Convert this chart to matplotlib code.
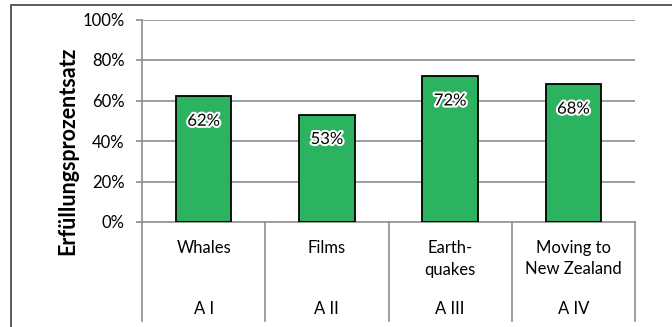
import matplotlib
matplotlib.use("Agg")
import matplotlib.pyplot as plt
import matplotlib.transforms as mtransforms
from matplotlib.patches import Rectangle
import matplotlib.patheffects as pe

categories = ["Whales", "Films", "Earth-\nquakes", "Moving to\nNew Zealand"]
groups = ["A I", "A II", "A III", "A IV"]
values = [62, 53, 72, 68]
yticks = [0, 20, 40, 60, 80, 100]
ylabel = "Erfüllungsprozentsatz"

plt.rcParams['font.family'] = ['Lato', 'DejaVu Sans']

W, H = 672, 327
fig = plt.figure(figsize=(W / 100, H / 100), dpi=100)

def fx(px):
    return px / W

def fy(py):
    return 1 - py / H

left, right, top, bottom = 142, 635, 19.5, 222
ax = fig.add_axes([fx(left), fy(bottom), fx(right - left), fy(top) - fy(bottom)])

grid_color = "#8c8c8c"
bar_color = "#2bb35f"
fs = 12

x = list(range(len(values)))
ax.bar(x, values, width=0.45, color=bar_color, edgecolor="black", linewidth=1.3, zorder=3)
ax.set_xlim(-0.5, len(values) - 0.5)
ax.set_ylim(0, 100)
ax.set_yticks(yticks)
ax.set_yticklabels([f"{v}%" for v in yticks], fontsize=fs)
ax.set_xticks([])
for v in yticks[1:]:
    ax.axhline(v, color=grid_color, linewidth=1.2, zorder=1)
for s in ["top", "right"]:
    ax.spines[s].set_visible(False)
for s in ["left", "bottom"]:
    ax.spines[s].set_color(grid_color)
    ax.spines[s].set_linewidth(1.2)
ax.tick_params(axis="y", length=4.5, width=1.2, color=grid_color, pad=8)

# data labels
for xi, v in zip(x, values):
    ax.annotate(f"{v}%", (xi, v), xytext=(0, -17.5), textcoords="offset points",
                ha="center", va="center", fontsize=fs, zorder=5,
                path_effects=[pe.withStroke(linewidth=3, foreground="white")])

# category separators and labels
trans = mtransforms.blended_transform_factory(ax.transData, ax.transAxes)
axh = bottom - top
ybot = -(321 - bottom) / axh
for b in [i - 0.5 for i in range(len(values) + 1)]:
    ax.plot([b, b], [0, ybot], color=grid_color, linewidth=1.2, transform=trans, clip_on=False)

def ay(py):
    return -(py - bottom) / axh

for xi, c, g in zip(x, categories, groups):
    for k, line in enumerate(c.split("\n")):
        ax.text(xi, ay(253 + 21.5 * k), line, transform=trans, ha="center", va="baseline",
                fontsize=fs)
    ax.text(xi, ay(314), g, transform=trans, ha="center", va="baseline", fontsize=fs)

fig.text(fx(68), fy(151), ylabel, rotation=90, ha="center", va="center",
         fontsize=15.5, fontweight="bold")

fig.patches.append(Rectangle((fx(11), -0.1), 1.2, fy(5) + 0.1, transform=fig.transFigure,
                             fill=False, edgecolor="#404040", linewidth=1.2))

fig.savefig("out.png", dpi=100)
